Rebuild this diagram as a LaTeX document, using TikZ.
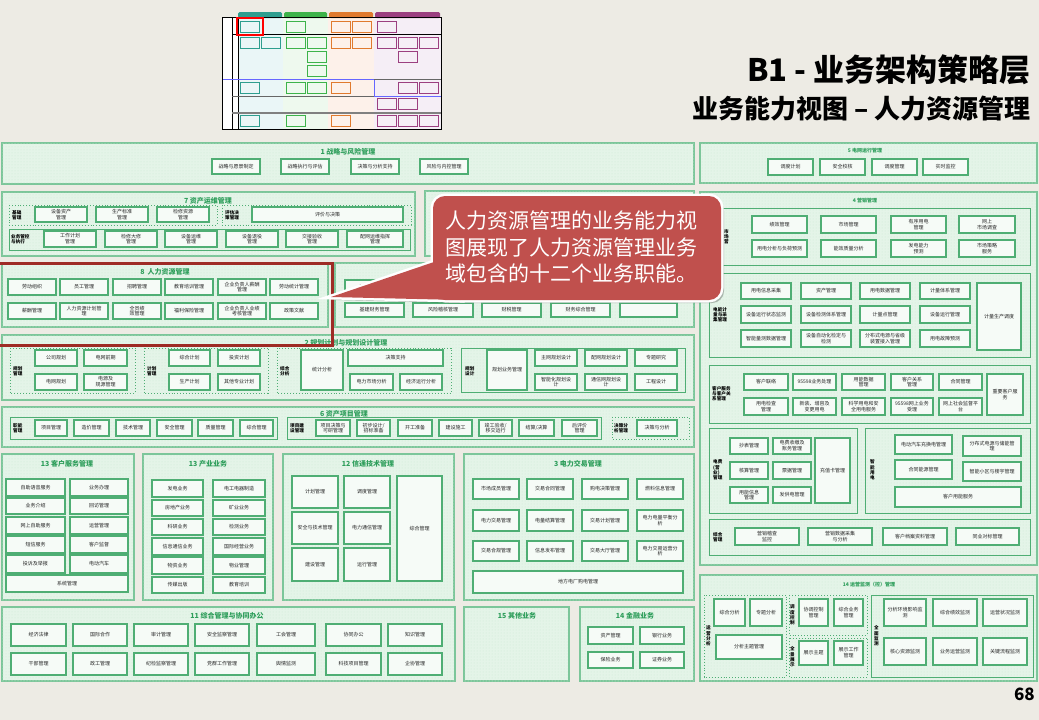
\documentclass[tikz,border=0pt]{standalone}
\usepackage{fontspec}
\setmainfont{Noto Sans CJK SC}
\usetikzlibrary{patterns}
\definecolor{bg}{HTML}{EDEBE4}
\definecolor{secfill}{HTML}{E4F4E8}
\definecolor{secline}{HTML}{7CC69A}
\definecolor{boxfill}{HTML}{F6FBF7}
\definecolor{boxline}{HTML}{4FAE74}
\definecolor{titlec}{HTML}{2E9E5B}
\definecolor{callred}{HTML}{C0504D}
\definecolor{framered}{HTML}{9E2B25}
\definecolor{tealH}{HTML}{2E9E8F}
\definecolor{greenH}{HTML}{3DB34A}
\definecolor{orangeH}{HTML}{E07A2E}
\definecolor{purpleH}{HTML}{9B3F80}
\definecolor{tealL}{HTML}{EAF6F7}
\definecolor{greenL}{HTML}{EEF9EE}
\definecolor{orangeL}{HTML}{FDF1EA}
\definecolor{purpleL}{HTML}{F5EEF6}
\definecolor{dotc}{HTML}{CDE9D5}
\newcounter{bxc}
\newcommand\fs{\fontsize{5}{5.8}\selectfont}
\tikzset{
 sec/.style={draw=secline, fill=secfill, line width=1.3pt, postaction={pattern=dots, pattern color=dotc}},
 bx/.style={draw=boxline, fill=boxfill, line width=1.1pt, align=center, inner sep=0pt, font=\fs, text=black!85},
 sgrp/.style={draw=boxline, line width=0.9pt},
 dgrp/.style={draw=boxline, dotted, line width=0.9pt},
 ttl/.style={font=\bfseries\fontsize{7}{8}\selectfont, text=titlec, inner sep=0pt},
 sttl/.style={font=\bfseries\fontsize{5}{6}\selectfont, text=titlec, inner sep=0pt},
 lbl/.style={font=\bfseries\fontsize{4.6}{5.2}\selectfont, align=left, inner sep=0pt, anchor=west},
 ticon/.style={line width=0.7pt, inner sep=0pt, minimum width=19pt, minimum height=11pt, anchor=north west},
}
\newcommand\cbx[5]{\stepcounter{bxc}\node[bx,minimum width={(#3-#1)*1pt},minimum height={(#4-#2)*1pt}] (b\arabic{bxc}) at ({(#1+#3)/2},{(#2+#4)/2}) {#5};}
\newcommand\secbox[4]{\draw[sec] (#1,#2) rectangle (#3,#4);}
\newcommand\grp[5]{\draw[#1] (#2,#3) rectangle (#4,#5);}
\newcommand\glab[3]{\stepcounter{bxc}\node[lbl] (l\arabic{bxc}) at (#1,#2) {#3};}
\newcommand\sectitle[3]{\stepcounter{bxc}\node[ttl] (t\arabic{bxc}) at (#1,#2) {#3};}
\newcommand\ssectitle[3]{\stepcounter{bxc}\node[sttl] (t\arabic{bxc}) at (#1,#2) {#3};}
\newcommand\ti[4]{\stepcounter{bxc}\node[ticon, draw=#1, fill=#2] (i\arabic{bxc}) at (#3,#4) {};}
\begin{document}
\begin{tikzpicture}[x=1pt,y=-1pt]
\useasboundingbox (0,0) rectangle (1039,720);
\fill[bg] (0,0) rectangle (1039,720);

% ---------- thumbnail ----------
\fill[white] (222,17) rectangle (441,129);
\fill[tealL] (238,17) rectangle (283,129);
\fill[greenL] (283,17) rectangle (328,129);
\fill[orangeL] (328,17) rectangle (374,129);
\fill[purpleL] (374,17) rectangle (441,129);
\fill[tealH, rounded corners=1.5pt] (238,12) rectangle (282,18);
\fill[greenH, rounded corners=1.5pt] (284,12) rectangle (327,18);
\fill[orangeH, rounded corners=1.5pt] (329,12) rectangle (373,18);
\fill[purpleH, rounded corners=1.5pt] (375,12) rectangle (440,18);
\draw[black, line width=0.5pt] (232,17)--(232,129) (238,17)--(238,129) (232,34)--(441,34);
\draw[gray, line width=1.2pt] (232,113)--(441,113);
\draw[blue!60, line width=0.8pt] (222,79)--(374,79)--(374,96)--(441,96);
\draw[black!60, line width=0.5pt] (374,79)--(441,79) (232,96)--(374,96);
\draw[black, line width=0.8pt] (222,17) rectangle (441,129);
\ti{tealH}{tealL}{240}{21}
\ti{greenH}{greenL}{286}{21}
\ti{orangeH}{orangeL}{331}{21}\ti{orangeH}{orangeL}{352}{21}
\ti{purpleH}{purpleL}{377}{21}
\ti{tealH}{tealL}{240}{37}\ti{tealH}{tealL}{261}{37}
\ti{greenH}{greenL}{286}{37}\ti{greenH}{greenL}{307}{37}
\ti{orangeH}{orangeL}{331}{37}\ti{orangeH}{orangeL}{352}{37}
\ti{purpleH}{purpleL}{377}{37}\ti{purpleH}{purpleL}{398}{37}\ti{purpleH}{purpleL}{419}{37}
\ti{greenH}{greenL}{307}{51}\ti{purpleH}{purpleL}{398}{51}
\ti{greenH}{greenL}{307}{65}
\ti{tealH}{tealL}{240}{82}
\ti{greenH}{greenL}{286}{82}\ti{greenH}{greenL}{307}{82}
\ti{orangeH}{orangeL}{331}{82}
\ti{purpleH}{purpleL}{398}{82}\ti{purpleH}{purpleL}{419}{82}
\ti{purpleH}{purpleL}{377}{98}\ti{purpleH}{purpleL}{398}{98}
\ti{tealH}{tealL}{240}{115}
\ti{greenH}{greenL}{286}{115}
\ti{orangeH}{orangeL}{331}{115}
\ti{purpleH}{purpleL}{377}{115}\ti{purpleH}{purpleL}{398}{115}\ti{purpleH}{purpleL}{419}{115}
\draw[red, line width=2.5pt] (237,18) rectangle (263,35);

% ---------- titles ----------
\node[anchor=east, inner sep=0pt, font=\bfseries\fontsize{31}{32}\selectfont] (title1) at (1031,70) {B1 - 业务架构策略层};
\node[anchor=east, inner sep=0pt, font=\bfseries\fontsize{26}{28}\selectfont] (title2) at (1031,109) {业务能力视图 – 人力资源管理};
\node[anchor=east, inner sep=0pt, font=\bfseries\fontsize{17}{18}\selectfont] (pg) at (1035,694) {68};

% ---------- S1 ----------
\secbox{2}{143}{694}{184}
\sectitle{348}{152}{1 战略与风险管理}
\cbx{212}{159}{260}{174}{战略与愿景制定}
\cbx{281}{159}{329}{174}{战略执行与评估}
\cbx{351}{159}{399}{174}{决策与分析支持}
\cbx{420}{159}{468}{174}{风险与内控管理}

% ---------- S7 ----------
\secbox{2}{192}{415}{256}
\sectitle{208}{201}{7 资产运维管理}
\grp{dgrp}{9}{205}{217}{225}
\glab{12}{215}{基础\\管理}
\cbx{35}{207}{87}{222}{设备资产\\管理}
\cbx{96}{207}{148}{222}{生产标准\\管理}
\cbx{157}{207}{209}{222}{检修资源\\管理}
\grp{dgrp}{222}{205}{411}{225}
\glab{225}{215}{评估决\\策管理}
\cbx{252}{207}{403}{222}{评价与决策}
\grp{sgrp}{9}{229}{410}{250}
\glab{11}{239}{业务管控\\与执行}
\cbx{44}{231}{96}{247}{工作计划\\管理}
\cbx{105}{231}{157}{247}{检修大修\\管理}
\cbx{165}{231}{217}{247}{设备运维\\管理}
\cbx{226}{231}{278}{247}{设备退役\\管理}
\cbx{286}{231}{338}{247}{交接验收\\管理}
\cbx{347}{231}{403}{247}{配网运维指挥\\管理}

% ---------- hidden section ----------
\secbox{425}{191}{694}{256}

% ---------- S8 ----------
\secbox{2}{263}{328}{327}
\sectitle{165}{272}{8\ \ 人力资源管理}
\cbx{8}{279}{56}{295}{劳动组织}
\cbx{60}{279}{108}{295}{员工管理}
\cbx{113}{279}{161}{295}{招聘管理}
\cbx{165}{279}{213}{295}{教育培训管理}
\cbx{218}{279}{266}{295}{企业负责人薪酬\\管理}
\cbx{270}{279}{318}{295}{劳动统计管理}
\cbx{8}{303}{56}{319}{薪酬管理}
\cbx{60}{303}{108}{319}{人力资源计划管\\理}
\cbx{113}{303}{161}{319}{全员绩\\效管理}
\cbx{165}{303}{213}{319}{福利保险管理}
\cbx{218}{303}{266}{319}{企业负责人业绩\\考核管理}
\cbx{270}{303}{318}{319}{政策文献}

% ---------- S9 finance ----------
\secbox{335}{263}{694}{327}
\cbx{345}{280}{404}{294}{财务预算管理}
\cbx{413}{280}{473}{294}{}
\cbx{482}{280}{541}{294}{}
\cbx{551}{280}{610}{294}{}
\cbx{620}{280}{677}{294}{}
\cbx{345}{303}{404}{317}{基建财务管理}
\cbx{413}{303}{473}{317}{风险稽核管理}
\cbx{482}{303}{541}{317}{财税管理}
\cbx{551}{303}{610}{317}{财务综合管理}
\cbx{620}{303}{677}{317}{}

% ---------- S2 planning ----------
\secbox{2}{335}{694}{400}
\sectitle{346}{343}{2 规划计划与规划设计管理}
\grp{dgrp}{10}{348}{135}{393}
\glab{13}{371}{规划\\管理}
\cbx{35}{350}{77}{366}{公司规划}
\cbx{84}{350}{127}{366}{电网前期}
\cbx{35}{374}{77}{390}{电网规划}
\cbx{84}{374}{127}{390}{电源及\\规源管理}
\grp{dgrp}{144}{348}{268}{393}
\glab{147}{371}{计划\\管理}
\cbx{169}{350}{210}{366}{综合计划}
\cbx{218}{350}{260}{366}{投资计划}
\cbx{169}{374}{210}{390}{生产计划}
\cbx{218}{374}{260}{390}{其他专业计划}
\grp{dgrp}{277}{348}{451}{393}
\glab{280}{371}{综合\\分析}
\cbx{301}{350}{343}{390}{统计分析}
\cbx{348}{350}{443}{366}{决策支持}
\cbx{350}{374}{393}{390}{电力市场分析}
\cbx{400}{374}{442}{390}{经济运行分析}
\grp{sgrp}{461}{348}{685}{392}
\glab{465}{371}{规划\\设计}
\cbx{487}{350}{527}{390}{规划业务管理}
\cbx{535}{350}{577}{366}{主网规划设计}
\cbx{585}{350}{627}{366}{配网规划设计}
\cbx{635}{350}{677}{366}{专题研究}
\cbx{535}{374}{577}{390}{智能化规划设\\计}
\cbx{585}{374}{627}{390}{通信网规划设\\计}
\cbx{635}{374}{677}{390}{工程设计}

% ---------- S6 ----------
\secbox{2}{407}{694}{447}
\sectitle{344}{414}{6 资产项目管理}
\grp{sgrp}{10}{417}{277}{439}
\glab{13}{428}{职能\\管理}
\cbx{35}{420}{67}{436}{项目管理}
\cbx{74}{420}{109}{436}{造价管理}
\cbx{116}{420}{150}{436}{技术管理}
\cbx{157}{420}{192}{436}{安全管理}
\cbx{198}{420}{233}{436}{质量管理}
\cbx{240}{420}{273}{436}{综合管理}
\grp{sgrp}{287}{417}{601}{439}
\glab{290}{428}{项目建\\设管理}
\cbx{316}{420}{350}{436}{项目决策与\\可研管理}
\cbx{357}{420}{390}{436}{初步设计/\\招标准备}
\cbx{398}{420}{432}{436}{开工准备}
\cbx{439}{420}{472}{436}{建设施工}
\cbx{479}{420}{512}{436}{竣工验收/\\移交运行}
\cbx{519}{420}{554}{436}{结算/决算}
\cbx{562}{420}{597}{436}{后评价\\管理}
\grp{dgrp}{612}{417}{689}{439}
\glab{614}{428}{决策分\\析管理}
\cbx{637}{420}{677}{436}{决策与分析}

% ---------- S13 customer ----------
\secbox{2}{454}{134}{600}
\sectitle{67}{464}{13 客户服务管理}
\cbx{6}{479}{65}{496}{自助语音服务}
\cbx{70}{479}{128}{496}{业务办理}
\cbx{6}{498}{65}{514}{业务介绍}
\cbx{70}{498}{128}{514}{回访管理}
\cbx{6}{517}{65}{534}{网上自助服务}
\cbx{70}{517}{128}{534}{运营管理}
\cbx{6}{536}{65}{553}{短信服务}
\cbx{70}{536}{128}{553}{客户监督}
\cbx{6}{555}{65}{573}{投诉及举报}
\cbx{70}{555}{128}{573}{电动汽车}
\cbx{6}{575}{128}{592}{系统管理}

% ---------- S13 industry ----------
\secbox{143}{454}{273}{600}
\sectitle{208}{464}{13 产业业务}
\cbx{152}{480}{203}{497}{发电业务}
\cbx{213}{480}{265}{497}{电工电器制造}
\cbx{152}{500}{203}{516}{房地产业务}
\cbx{213}{500}{265}{516}{矿业业务}
\cbx{152}{519}{203}{535}{科研业务}
\cbx{213}{519}{265}{535}{检测业务}
\cbx{152}{538}{203}{555}{信息通信业务}
\cbx{213}{538}{265}{555}{国际经营业务}
\cbx{152}{557}{203}{574}{物资业务}
\cbx{213}{557}{265}{574}{物业管理}
\cbx{152}{577}{203}{593}{传媒出版}
\cbx{213}{577}{265}{593}{教育培训}

% ---------- S12 ----------
\secbox{283}{454}{454}{600}
\sectitle{368}{464}{12 信通技术管理}
\cbx{292}{476}{338}{508}{计划管理}
\cbx{344}{476}{390}{508}{调度管理}
\cbx{292}{512}{338}{544}{安全与技术管理}
\cbx{344}{512}{390}{544}{电力通信管理}
\cbx{292}{548}{338}{581}{建设管理}
\cbx{344}{548}{390}{581}{运行管理}
\cbx{397}{476}{442}{581}{综合管理}

% ---------- S3 trading ----------
\secbox{464}{454}{694}{600}
\sectitle{578}{464}{3 电力交易管理}
\cbx{473}{479}{519}{499}{市场成员管理}
\cbx{527}{479}{573}{499}{交易合同管理}
\cbx{582}{479}{628}{499}{购电决策管理}
\cbx{637}{479}{683}{499}{燃料信息管理}
\cbx{473}{510}{519}{531}{电力交易管理}
\cbx{527}{510}{573}{531}{电量结算管理}
\cbx{582}{510}{628}{531}{交易计划管理}
\cbx{637}{510}{683}{531}{电力电量平衡分\\析}
\cbx{473}{541}{519}{561}{交易合规管理}
\cbx{527}{541}{573}{561}{信息发布管理}
\cbx{582}{541}{628}{561}{交易大厅管理}
\cbx{637}{541}{683}{561}{电力交易运营分\\析}
\cbx{473}{571}{683}{593}{地方电厂购电管理}

% ---------- S11 ----------
\secbox{2}{607}{455}{681}
\sectitle{227}{616}{11 综合管理与协同办公}
\cbx{11}{624}{66}{646}{经济法律}
\cbx{73}{624}{127}{646}{国际合作}
\cbx{134}{624}{188}{646}{审计管理}
\cbx{195}{624}{249}{646}{安全监察管理}
\cbx{257}{624}{315}{646}{工会管理}
\cbx{326}{624}{381}{646}{协同办公}
\cbx{388}{624}{442}{646}{知识管理}
\cbx{11}{653}{66}{675}{干部管理}
\cbx{73}{653}{127}{675}{政工管理}
\cbx{134}{653}{188}{675}{纪检监察管理}
\cbx{195}{653}{249}{675}{党群工作管理}
\cbx{257}{653}{315}{675}{舆情监测}
\cbx{326}{653}{381}{675}{科技项目管理}
\cbx{388}{653}{442}{675}{企协管理}

% ---------- S15 / S14 finance ----------
\secbox{464}{607}{569}{681}
\sectitle{517}{616}{15 其他业务}
\secbox{580}{607}{694}{681}
\sectitle{635}{616}{14 金融业务}
\cbx{588}{627}{633}{644}{资产管理}
\cbx{640}{627}{684}{644}{银行业务}
\cbx{588}{652}{633}{668}{保险业务}
\cbx{640}{652}{684}{668}{证券业务}

% ---------- R5 ----------
\secbox{700}{143}{1037}{183}
\ssectitle{865}{151}{5 电网运行管理}
\cbx{768}{159}{813}{175}{调度计划}
\cbx{820}{159}{865}{175}{安全校核}
\cbx{872}{159}{917}{175}{调度管理}
\cbx{923}{159}{968}{175}{实时监控}

% ---------- R4 ----------
\secbox{700}{192}{1037}{565}
\ssectitle{865}{201}{4 营销管理}
\grp{sgrp}{722}{208}{1030}{265}
\glab{724}{237}{市\\场\\营}
\cbx{752}{216}{807}{233}{绩效管理}
\cbx{821}{216}{876}{233}{市场管理}
\cbx{891}{216}{946}{233}{有序用电\\管理}
\cbx{959}{216}{1015}{233}{网上\\市场调查}
\cbx{752}{240}{807}{257}{用电分析与负荷预测}
\cbx{821}{240}{876}{257}{能效质量分析}
\cbx{891}{240}{946}{257}{发电能力\\预测}
\cbx{959}{240}{1015}{257}{市场策略\\服务}
\grp{sgrp}{709}{273}{1030}{357}
\glab{713}{315}{电能计\\量与采\\集管理}
\cbx{741}{283}{791}{299}{用电信息采集}
\cbx{801}{283}{851}{299}{资产管理}
\cbx{860}{283}{910}{299}{用电数据管理}
\cbx{920}{283}{970}{299}{计量体系管理}
\cbx{741}{306}{791}{323}{设备运行状态监测}
\cbx{801}{306}{851}{323}{设备检测体系管理}
\cbx{860}{306}{910}{323}{计量点管理}
\cbx{920}{306}{970}{323}{设备运行管理}
\cbx{741}{330}{791}{347}{智能量测数据管理}
\cbx{801}{330}{851}{347}{设备自动化检定与\\检测}
\cbx{860}{330}{910}{347}{分布式电源与省级\\装置接入管理}
\cbx{920}{330}{970}{347}{用电故障预测}
\cbx{977}{283}{1021}{350}{计量生产调度}
\grp{sgrp}{709}{365}{1030}{423}
\glab{712}{394}{客户服务\\与客户关\\系管理}
\cbx{744}{374}{788}{390}{客户联络}
\cbx{793}{374}{836}{390}{95598业务处理}
\cbx{842}{374}{885}{390}{用能数据\\管理}
\cbx{891}{374}{933}{390}{客户关系\\管理}
\cbx{939}{374}{982}{390}{合同管理}
\cbx{987}{374}{1023}{415}{重要客户服\\务}
\cbx{744}{398}{788}{415}{用电检查\\管理}
\cbx{793}{398}{836}{415}{新装、增容及\\变更用电}
\cbx{842}{398}{885}{415}{科学用电和安\\全用电服务}
\cbx{891}{398}{933}{415}{95598网上业务\\受理}
\cbx{939}{398}{982}{415}{网上社会监督平\\台}
\grp{sgrp}{709}{428}{857}{513}
\glab{713}{470}{电费\\(营\\业)\\管理}
\cbx{730}{438}{768}{454}{抄表管理}
\cbx{773}{438}{811}{454}{电费收缴及\\账务管理}
\cbx{730}{462}{768}{479}{核算管理}
\cbx{773}{462}{811}{479}{票据管理}
\cbx{730}{487}{768}{503}{用能信息\\管理}
\cbx{773}{487}{811}{503}{发供电管理}
\cbx{815}{438}{850}{503}{充值卡管理}
\grp{sgrp}{865}{428}{1030}{513}
\glab{870}{470}{智\\能\\用\\电}
\cbx{895}{435}{952}{454}{电动汽车充换电管理}
\cbx{963}{436}{1021}{456}{分布式电源与储能管\\理}
\cbx{895}{460}{952}{479}{合同能源管理}
\cbx{963}{462}{1021}{481}{智能小区与楼宇管理}
\cbx{895}{487}{1021}{507}{客户用能服务}
\grp{sgrp}{709}{519}{1030}{555}
\glab{713}{537}{综合\\管理}
\cbx{735}{528}{799}{545}{营销稽查\\监控}
\cbx{808}{528}{872}{545}{营销数据采集\\与分析}
\cbx{883}{528}{947}{545}{客户档案资料管理}
\cbx{956}{528}{1019}{545}{同业对标管理}

% ---------- R14 ----------
\secbox{700}{575}{1037}{681}
\ssectitle{869}{585}{14 运营监测（控）管理}
\grp{dgrp}{704}{595}{786}{677}
\glab{706}{636}{运\\营\\分\\析}
\cbx{714}{599}{745}{626}{综合分析}
\cbx{750}{599}{782}{626}{专题分析}
\cbx{716}{635}{782}{659}{分析主题管理}
\grp{dgrp}{789}{595}{867}{635}
\glab{790}{615}{调\\度\\控\\制}
\cbx{799}{599}{828}{626}{协调控制\\管理}
\cbx{834}{599}{863}{626}{综合业务\\管理}
\grp{dgrp}{789}{638}{867}{677}
\glab{790}{657}{全\\景\\展\\示}
\cbx{799}{641}{828}{665}{展示主题}
\cbx{834}{641}{863}{665}{展示工作\\管理}
\grp{sgrp}{871}{595}{1033}{677}
\glab{874}{636}{全\\面\\监\\测}
\cbx{884}{599}{926}{626}{分析环境影响监\\测}
\cbx{933}{599}{977}{626}{综合绩效监测}
\cbx{983}{599}{1027}{626}{运营状况监测}
\cbx{884}{638}{926}{665}{核心资源监测}
\cbx{933}{638}{977}{665}{业务运营监测}
\cbx{983}{638}{1027}{665}{关键流程监测}

% ---------- red frame ----------
\draw[framered, line width=3pt] (-3,263.5) rectangle (332.5,345.5);

% ---------- callout ----------
\fill[black, opacity=0.25, rounded corners=12pt] (436,199) rectangle (724,303);
\fill[black, opacity=0.25] (334,300) -- (437,265) -- (463,303) -- cycle;
\draw[white, line width=5pt, rounded corners=12pt] (433,196) rectangle (721,300);
\draw[white, line width=5pt, line join=miter] (331,297) -- (434,262) -- (460,300) -- cycle;
\fill[callred, rounded corners=12pt] (433,196) rectangle (721,300);
\fill[callred] (331,297) -- (434,262) -- (460,300) -- cycle;
\node[anchor=west, align=left, inner sep=0pt, text=white, font=\fontsize{21}{26.5}\selectfont] (callout) at (445,247) {人力资源管理的业务能力视\\图展现了人力资源管理业务\\域包含的十二个业务职能。};
\end{tikzpicture}
\end{document}
